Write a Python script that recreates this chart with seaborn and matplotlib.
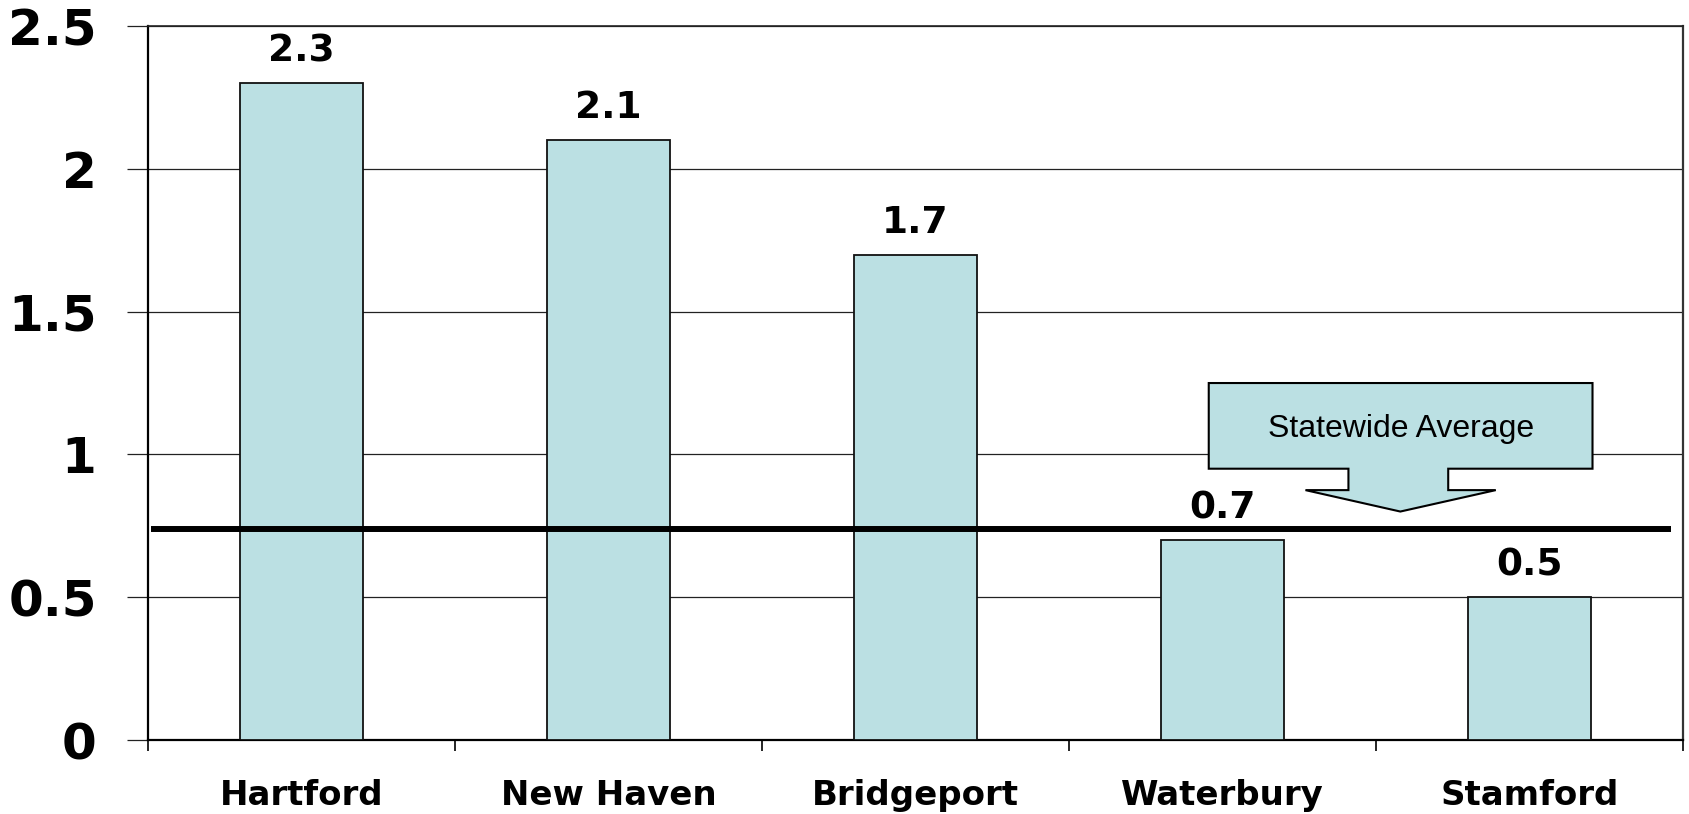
import matplotlib
matplotlib.use("Agg")
import matplotlib.pyplot as plt
import matplotlib.patches as mpatches
import seaborn as sns
import pandas as pd

# chart data
cities = ["Hartford", "New Haven", "Bridgeport", "Waterbury", "Stamford"]
values = [2.3, 2.1, 1.7, 0.7, 0.5]
statewide_avg = 0.74
y_ticks = [0, 0.5, 1, 1.5, 2, 2.5]
y_tick_labels = ["0", "0.5", "1", "1.5", "2", "2.5"]
callout_text = "Statewide Average"

BAR_COLOR = "#BBE0E3"

sns.set_style("white")
plt.rcParams["font.family"] = ["DejaVu Sans"]
plt.rcParams["text.color"] = "black"
plt.rcParams["xtick.color"] = "black"
plt.rcParams["ytick.color"] = "black"

df = pd.DataFrame({"city": cities, "value": values})

fig = plt.figure(figsize=(16.9, 8.14), dpi=100)
ax = fig.add_axes([0.0876, 0.0909, 0.9083, 0.8771])

sns.barplot(data=df, x="city", y="value", color=BAR_COLOR, saturation=1,
            edgecolor="#111111", linewidth=1.3, width=0.4, ax=ax, zorder=3)

ax.set_xlim(-0.5, len(cities) - 0.5)
ax.set_ylim(0, 2.5)

# horizontal gridlines
ax.set_yticks(y_ticks)
ax.set_yticklabels(y_tick_labels, fontsize=36, fontweight="bold")
ax.yaxis.grid(True, color="#222222", linewidth=0.9, zorder=0)
ax.set_axisbelow(True)
ax.tick_params(axis="y", direction="out", length=15, width=0.9, color="#222222",
               labelcolor="black", pad=22, left=True)

# x: boundary ticks (no labels) + centered labels
ax.set_xticks([i - 0.5 for i in range(len(cities) + 1)])
ax.set_xticklabels([])
ax.set_xticks(range(len(cities)), minor=True)
ax.set_xticklabels(cities, minor=True, fontsize=24.5, fontweight="bold")
ax.tick_params(axis="x", which="major", direction="out", length=8, width=1.2,
               color="black", bottom=True)
ax.tick_params(axis="x", which="minor", length=0, pad=28, labelcolor="black")
ax.set_xlabel("")
ax.set_ylabel("")

for side in ["left", "bottom"]:
    ax.spines[side].set_color("black")
    ax.spines[side].set_linewidth(1.6)
ax.spines["right"].set_color("#333333")
ax.spines["right"].set_linewidth(1.6)
ax.spines["top"].set_color("#222222")
ax.spines["top"].set_linewidth(1.2)

# value labels
for i, v in enumerate(values):
    ax.annotate(f"{v}", (i, v), xytext=(0, 10), textcoords="offset points",
                ha="center", va="bottom", fontsize=27, fontweight="bold",
                color="black")

# statewide average line
ax.plot([-0.49, 4.46], [statewide_avg, statewide_avg], color="black",
        linewidth=4.3, zorder=4, solid_capstyle="butt")

# callout box with downward arrow
box_l, box_r, box_b, box_t = 2.955, 4.205, 0.95, 1.25
neck_l, neck_r, wing_l, wing_r = 3.41, 3.735, 3.27, 3.89
wing_y, tip_x, tip_y = 0.875, 3.579, 0.80
poly = [(box_l, box_t), (box_r, box_t), (box_r, box_b), (neck_r, box_b),
        (neck_r, wing_y), (wing_r, wing_y), (tip_x, tip_y), (wing_l, wing_y),
        (neck_l, wing_y), (neck_l, box_b), (box_l, box_b)]
ax.add_patch(mpatches.Polygon(poly, closed=True, facecolor=BAR_COLOR,
                              edgecolor="black", linewidth=1.5, zorder=5))
ax.text((box_l + box_r) / 2, 1.09, callout_text, ha="center", va="center",
        fontsize=23, family=["Liberation Sans", "DejaVu Sans"], color="black",
        zorder=6)

fig.savefig("out.png", dpi=100)
